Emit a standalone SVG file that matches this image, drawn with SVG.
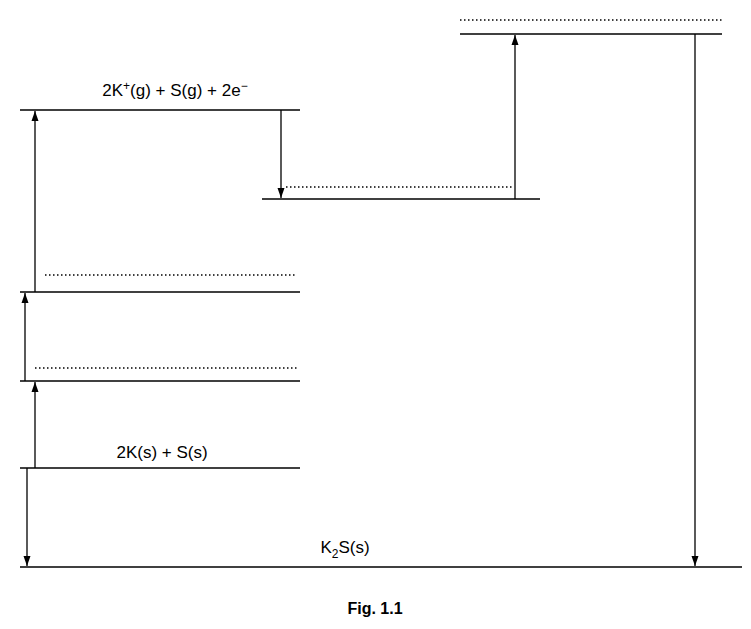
<svg xmlns="http://www.w3.org/2000/svg" width="751" height="629" viewBox="0 0 751 629">
<defs>
<marker id="ah" viewBox="0 0 10 10" refX="10" refY="5" markerWidth="10" markerHeight="10" markerUnits="userSpaceOnUse" orient="auto"><path d="M0,1.5 L10,5 L0,8.5 Z" fill="#000"/></marker>
<style>
.lv{stroke:#000;stroke-width:1.6;fill:none}
.dt{stroke:#000;stroke-width:1.5;stroke-dasharray:1.5 2.5;fill:none}
.ar{stroke:#000;stroke-width:1.3;fill:none;marker-end:url(#ah)}
text{font-family:"Liberation Sans",Arial,sans-serif;font-size:17px;fill:#000}
</style>
</defs>
<rect width="751" height="629" fill="#fff"/>
<g id="level-top"><line class="dt" x1="460" y1="20" x2="722" y2="20"/><line class="lv" x1="460" y1="34" x2="722" y2="34"/></g>
<g id="level-ions"><line class="lv" x1="20" y1="110" x2="300" y2="110"/><text x="175" y="96" text-anchor="middle">2K<tspan dy="-6" font-size="12">+</tspan><tspan dy="6">(g) + S(g) + 2e</tspan><tspan dy="-6" font-size="12">−</tspan></text></g>
<g id="level-mid"><line class="dt" x1="286" y1="187" x2="514" y2="187"/><line class="lv" x1="262" y1="199" x2="540" y2="199"/></g>
<g id="level-3"><line class="dt" x1="45" y1="275" x2="295" y2="275"/><line class="lv" x1="20" y1="292" x2="300" y2="292"/></g>
<g id="level-2"><line class="dt" x1="35" y1="368" x2="297" y2="368"/><line class="lv" x1="20" y1="381" x2="300" y2="381"/></g>
<g id="level-elements"><line class="lv" x1="20" y1="468" x2="300" y2="468"/><text x="162" y="458" text-anchor="middle">2K(s) + S(s)</text></g>
<g id="level-k2s"><line class="lv" x1="20" y1="567" x2="742" y2="567"/><text x="345" y="553" text-anchor="middle">K<tspan dy="5" font-size="12">2</tspan><tspan dy="-5">S(s)</tspan></text></g>
<g id="connectors">
<line class="ar" x1="281" y1="110" x2="281" y2="198"/>
<line class="ar" x1="515" y1="199" x2="515" y2="35"/>
<line class="ar" x1="35" y1="292" x2="35" y2="111"/>
<line class="ar" x1="25" y1="381" x2="25" y2="293"/>
<line class="ar" x1="35" y1="468" x2="35" y2="382"/>
<line class="ar" x1="27" y1="468" x2="27" y2="566"/>
<line class="ar" x1="695" y1="34" x2="695" y2="566"/>
</g>
<text x="375" y="614" text-anchor="middle" font-weight="bold" style="font-size:16px">Fig. 1.1</text>
</svg>
